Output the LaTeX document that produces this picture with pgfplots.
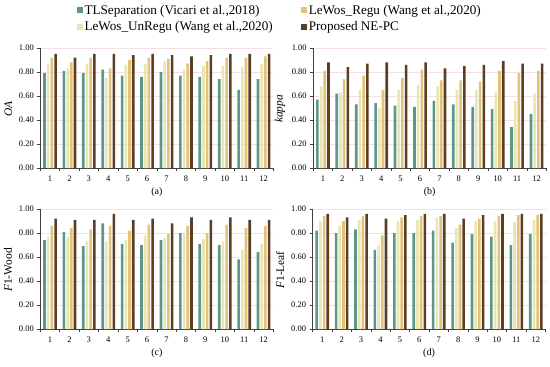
\documentclass[border=0pt]{standalone}
\usepackage{fontspec}
\setmainfont{Liberation Serif}
\usepackage{pgfplots}
\usepackage{pgfplotstable}
\pgfplotsset{compat=1.18}
\definecolor{cTL}{HTML}{5E978A}
\definecolor{cUn}{HTML}{E9E6B5}
\definecolor{cRe}{HTML}{E3C27A}
\definecolor{cNE}{HTML}{5A3E26}
\definecolor{cGrid}{HTML}{F5DFE5}

\pgfplotstableread{
g TL Un Re NE
1 0.79 0.87 0.92 0.95
2 0.81 0.83 0.88 0.92
3 0.79 0.87 0.92 0.95
4 0.82 0.75 0.83 0.95
5 0.77 0.86 0.90 0.94
6 0.76 0.87 0.92 0.95
7 0.80 0.89 0.91 0.94
8 0.77 0.82 0.87 0.93
9 0.76 0.85 0.89 0.94
10 0.74 0.85 0.92 0.95
11 0.65 0.84 0.92 0.95
12 0.74 0.87 0.93 0.95
}\tabA
\pgfplotstableread{
g TL Un Re NE
1 0.57 0.68 0.81 0.88
2 0.62 0.63 0.74 0.84
3 0.53 0.65 0.77 0.87
4 0.54 0.50 0.65 0.88
5 0.52 0.65 0.75 0.86
6 0.51 0.69 0.82 0.88
7 0.56 0.68 0.73 0.83
8 0.53 0.65 0.73 0.85
9 0.51 0.65 0.72 0.86
10 0.49 0.63 0.81 0.89
11 0.34 0.56 0.79 0.87
12 0.45 0.62 0.81 0.87
}\tabB
\pgfplotstableread{
g TL Un Re NE
1 0.74 0.77 0.86 0.92
2 0.81 0.77 0.84 0.91
3 0.69 0.73 0.83 0.91
4 0.88 0.73 0.86 0.96
5 0.71 0.74 0.82 0.91
6 0.70 0.78 0.87 0.92
7 0.74 0.76 0.79 0.88
8 0.80 0.80 0.86 0.93
9 0.71 0.75 0.80 0.91
10 0.70 0.73 0.87 0.93
11 0.58 0.66 0.84 0.91
12 0.64 0.71 0.86 0.91
}\tabC
\pgfplotstableread{
g TL Un Re NE
1 0.82 0.90 0.94 0.96
2 0.80 0.86 0.90 0.93
3 0.83 0.91 0.94 0.96
4 0.66 0.70 0.78 0.92
5 0.80 0.90 0.93 0.95
6 0.80 0.91 0.94 0.96
7 0.82 0.93 0.94 0.96
8 0.72 0.84 0.87 0.92
9 0.79 0.90 0.92 0.95
10 0.77 0.90 0.94 0.96
11 0.70 0.89 0.95 0.96
12 0.79 0.91 0.95 0.96
}\tabD

\pgfplotsset{
  panel/.style={
    ybar=1.1bp, bar width=2.6bp,
    scale only axis, width=233bp, height=120bp,
    anchor=south west,
    xmin=0.5, xmax=12.5, ymin=0, ymax=1,
    xtick={1,...,12},
    minor xtick={0.5,1.5,...,12.5},
    ytick={0,0.2,0.4,0.6,0.8,1},
    axis lines*=left,
    axis line style={draw=black!75, line width=0.6bp},
    tick align=outside,
    major tick length=3bp, minor tick length=3bp,
    major x tick style={draw=none},
    minor x tick style={draw=black!75, line width=0.5bp},
    ytick style={draw=black!75, line width=0.5bp},
    ymajorgrids, grid style={draw=cGrid, line width=0.6bp},
    tick label style={font=\fontsize{8.5}{10}\selectfont, text=black},
    xticklabel style={yshift=-1.5bp},
    /pgf/number format/assume math mode=true,
    yticklabel style={/pgf/number format/.cd, fixed, fixed zerofill, precision=2},
    ylabel style={font=\fontsize{11.5}{13}\selectfont, xshift=-1bp},
    xlabel style={font=\fontsize{10}{12}\selectfont, yshift=1bp},
    legend image code/.code={\fill[##1] (0bp,-3bp) rectangle (6bp,3bp);},
  },
}

\newcommand{\bars}[1]{%
  \addplot[fill=cTL, draw=none] table[x=g, y=TL] {#1};
  \addplot[fill=cUn, draw=none] table[x=g, y=Un] {#1};
  \addplot[fill=cRe, draw=none] table[x=g, y=Re] {#1};
  \addplot[fill=cNE, draw=none] table[x=g, y=NE] {#1};
}

\begin{document}
\begin{tikzpicture}[x=1bp,y=1bp]
\path[use as bounding box] (0,0) rectangle (550,366);

\begin{axis}[panel, at={(40.3bp,198bp)}, ylabel={\textit{OA}}, xlabel={(a)},
  legend columns=2, transpose legend,
  legend style={at={(rel axis cs:0.155,1.375)}, anchor=north west, draw=none, fill=none,
    inner sep=0pt, font=\fontsize{13.2}{15}\selectfont,
    /tikz/every even column/.append style={column sep=26bp},
    row sep=1.5bp},
  legend cell align=left]
\bars{\tabA}
\legend{TLSeparation (Vicari et al.{,}2018), LeWos\_UnRegu (Wang et al.{,}2020), LeWos\_Regu (Wang et al.{,}2020), Proposed NE-PC}
\end{axis}

\begin{axis}[panel, at={(313.2bp,198bp)}, ylabel={\textit{kappa}}, xlabel={(b)}]
\bars{\tabB}
\end{axis}

\begin{axis}[panel, at={(40.3bp,37bp)}, ylabel={\textit{F}1-Wood}, xlabel={(c)}]
\bars{\tabC}
\end{axis}

\begin{axis}[panel, at={(312.5bp,37bp)}, ylabel={\textit{F}1-Leaf}, xlabel={(d)}]
\bars{\tabD}
\end{axis}
\end{tikzpicture}
\end{document}
